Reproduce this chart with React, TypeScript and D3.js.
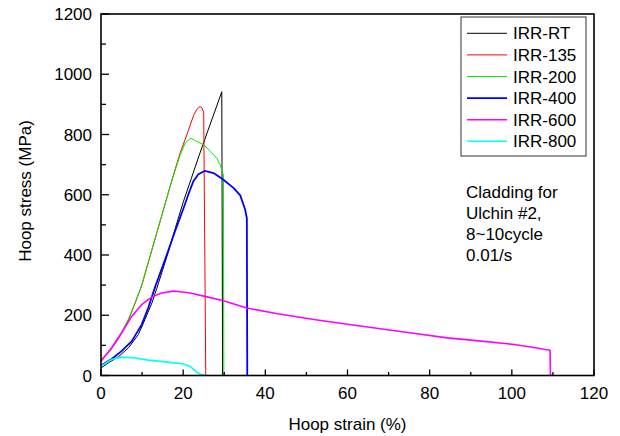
import React from "react";
import * as d3 from "d3";

type Pt = [number, number];

const xTicksMajor = [0, 20, 40, 60, 80, 100, 120];
const yTicksMajor = [0, 200, 400, 600, 800, 1000, 1200];

const seriesNames = ["IRR-RT", "IRR-135", "IRR-200", "IRR-400", "IRR-600", "IRR-800"];
const seriesColors = ["#000000", "#ff0000", "#00ee00", "#0000ff", "#ff00ff", "#00ffff"];
const seriesWidths = [1, 1, 1, 1.8, 1.6, 1.6];

const irrRT: Pt[] = [
  [0, 25], [1.8, 42], [4.2, 62], [6.7, 92], [9.1, 136], [10.7, 186], [12.4, 241],
  [13.6, 290], [15, 350], [16.5, 415], [18, 485], [20, 575], [22, 655], [24, 735],
  [26, 812], [28, 888], [29.4, 942], [29.6, 0],
];
const irr135: Pt[] = [
  [0, 53], [2, 78], [4.4, 125], [6.7, 185], [8.3, 240], [9.9, 298], [12, 398],
  [14, 493], [16.8, 627], [18.5, 705], [19.3, 740], [20.9, 799],
  [22.5, 862], [23.3, 883], [24.1, 893], [24.6, 888], [25, 871], [25.5, 0],
];
const irr200: Pt[] = [
  [0, 50], [2, 80], [4.4, 128], [6.7, 188], [8.3, 242], [9.9, 300], [12, 400],
  [14, 495], [16.8, 625], [17.6, 662], [19.3, 733], [20.5, 772], [21.9, 788],
  [23.3, 777], [25, 766], [26.6, 744], [28.2, 721], [29, 699], [29.8, 666], [29.9, 0],
];
const irr400: Pt[] = [
  [0, 33], [2.6, 55], [5, 81], [7.5, 114], [9.9, 169], [11.5, 225], [13.2, 295],
  [16, 400], [18, 478], [20, 552], [21.5, 610], [22.5, 645], [23.7, 668], [25.2, 679],
  [27.4, 672], [29.8, 650], [32.3, 622], [33.9, 598], [35.1, 550], [35.5, 522], [35.6, 0],
];
const irr600: Pt[] = [
  [0, 47], [2.6, 92], [5, 141], [7.5, 197], [9.9, 235], [12.4, 261], [14.8, 274],
  [17.6, 280], [19.3, 278], [21.7, 274], [25.8, 261], [29.8, 248], [35.5, 224],
  [43, 205], [51.8, 186], [60, 170], [68, 155], [76, 140], [84.3, 125], [92, 115],
  [100.6, 103], [105, 94], [109.3, 84], [109.4, 0],
];
const irr800: Pt[] = [
  [0, 31], [2.6, 53], [5, 61], [8.3, 58], [11.5, 51], [14.5, 47], [17.6, 42],
  [19.3, 40], [20.1, 38], [21.7, 30], [23.3, 11], [24.2, 4], [25.4, 1],
];

const allSeries = [irrRT, irr135, irr200, irr400, irr600, irr800];

const annotation = ["Cladding for", "Ulchin #2,", "8~10cycle", "0.01/s"];

const FONT = "'Liberation Sans', Arial, sans-serif";

export default function App() {
  const left = 101, right = 594, top = 14, bottom = 375.5;
  const x = d3.scaleLinear().domain([0, 120]).range([left, right]);
  const y = d3.scaleLinear().domain([0, 1200]).range([bottom, top]);
  const line = d3.line<Pt>().x((d) => x(d[0])).y((d) => y(d[1]));

  const xMinor = d3.range(10, 120, 20);
  const yMinor = d3.range(100, 1200, 200);

  const legX = 461, legY = 17, legW = 125, legH = 139;
  const rowY = (i: number) => 33.3 + i * 21.6;

  return (
    <svg
      width={620}
      height={436}
      style={{ position: "absolute", left: 0, top: 0, background: "#fff" }}
      fontFamily={FONT}
    >
      <rect x={0} y={0} width={620} height={436} fill="#fff" />
      {allSeries.map((s, i) => (
        <path
          key={seriesNames[i]}
          d={line(s) || ""}
          fill="none"
          stroke={seriesColors[i]}
          strokeWidth={seriesWidths[i]}
          strokeLinejoin="round"
        />
      ))}
      {xTicksMajor.map((t) => (
        <line key={"xt" + t} x1={x(t)} x2={x(t)} y1={bottom} y2={bottom - 6} stroke="#000" strokeWidth={1.3} />
      ))}
      {xMinor.map((t) => (
        <line key={"xm" + t} x1={x(t)} x2={x(t)} y1={bottom} y2={bottom - 3.5} stroke="#000" strokeWidth={1.3} />
      ))}
      {yTicksMajor.map((t) => (
        <line key={"yt" + t} x1={left} x2={left + 8} y1={y(t)} y2={y(t)} stroke="#000" strokeWidth={1.3} />
      ))}
      {yMinor.map((t) => (
        <line key={"ym" + t} x1={left} x2={left + 5} y1={y(t)} y2={y(t)} stroke="#000" strokeWidth={1.3} />
      ))}
      <rect x={left} y={top} width={right - left} height={bottom - top} fill="none" stroke="#000" strokeWidth={1.6} />
      {xTicksMajor.map((t) => (
        <text key={"xl" + t} x={x(t)} y={399} textAnchor="middle" fontSize={17} fill="#000">
          {t}
        </text>
      ))}
      {yTicksMajor.map((t) => (
        <text key={"yl" + t} x={92} y={y(t) + 6} textAnchor="end" fontSize={17} fill="#000">
          {t}
        </text>
      ))}
      <text x={(left + right) / 2} y={430} textAnchor="middle" fontSize={17} fill="#000">
        Hoop strain (%)
      </text>
      <text transform="translate(31,191) rotate(-90)" textAnchor="middle" fontSize={17} fill="#000">
        Hoop stress (MPa)
      </text>
      <rect x={legX} y={legY} width={legW} height={legH} fill="#fff" stroke="#333" strokeWidth={1} />
      {seriesNames.map((n, i) => (
        <g key={"lg" + n}>
          <line x1={467} x2={507} y1={rowY(i)} y2={rowY(i)} stroke={seriesColors[i]} strokeWidth={seriesWidths[i]} />
          <text x={513} y={rowY(i) + 6} fontSize={17} fill="#000">
            {n}
          </text>
        </g>
      ))}
      {annotation.map((a, i) => (
        <text key={"an" + i} x={466} y={198 + i * 21} fontSize={17} fill="#000">
          {a}
        </text>
      ))}
    </svg>
  );
}
